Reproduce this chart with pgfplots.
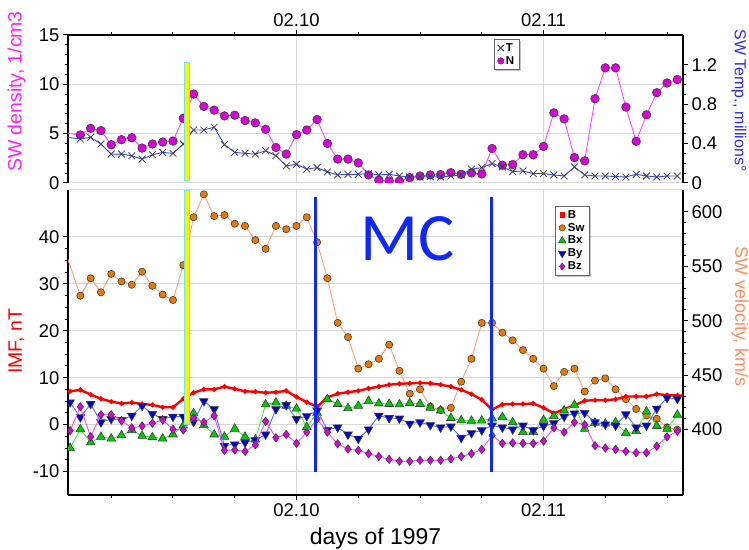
\documentclass[border=0pt]{standalone}
\usepackage{pgfplots}
\pgfplotsset{compat=1.18}
\usepackage{fontspec}
\setmainfont{Liberation Sans}
\newfontfamily\carlito{Carlito}
\usetikzlibrary{shadows}
\definecolor{nfill}{RGB}{220,0,220}
\definecolor{nline}{RGB}{255,70,255}
\definecolor{tline}{RGB}{50,70,255}
\definecolor{swfill}{RGB}{235,120,0}
\definecolor{swline}{RGB}{255,160,115}
\definecolor{bxfill}{RGB}{0,205,0}
\definecolor{bxline}{RGB}{70,235,70}
\definecolor{byfill}{RGB}{0,0,215}
\definecolor{byline}{RGB}{80,110,255}
\definecolor{bzfill}{RGB}{225,0,225}
\definecolor{bzline}{RGB}{255,70,255}
\definecolor{bred}{RGB}{255,0,0}
\definecolor{mcblue}{RGB}{15,40,250}
\definecolor{denslab}{RGB}{255,30,255}
\definecolor{templab}{RGB}{40,40,255}
\definecolor{vellab}{RGB}{255,140,90}
\definecolor{gridgray}{RGB}{215,215,215}
\definecolor{barcyan}{RGB}{110,230,230}
\definecolor{mkedge}{RGB}{60,60,60}
\pgfplotsset{
  panel/.style={scale only axis, width=615bp, xmin=1.8, xmax=61.55, anchor=south west,
    clip marker paths=true,
    /pgf/number format/assume math mode=true,
    tick label style={font=\fontsize{18.5}{20}\selectfont},
    axis line style={line width=1.6bp, black, -},
    every tick/.style={black, line width=1bp},
    major tick length=5bp, minor tick length=3bp, tick align=outside},
  legbox/.style={draw=black!60, line width=0.8bp, fill=white,
    font=\fontsize{11.5}{13}\selectfont\bfseries, inner xsep=3bp, inner ysep=2bp,
    row sep=-0.5bp,
    drop shadow={shadow xshift=1.8bp, shadow yshift=-1.8bp, fill=black!45}},
}
\begin{document}
\begin{tikzpicture}[x=1bp,y=1bp]
\path[use as bounding box] (0,0) rectangle (749,550);
% ---------------- TOP PANEL: density (left) ----------------
\begin{axis}[panel, height=148bp, at={(68bp,367bp)},
  ymin=0, ymax=15, axis x line*=top, axis y line*=left,
  xtick={24,48}, xticklabels={02.10,02.11}, minor xtick={6,12,18,30,36,42,54,60},
  ytick={0,5,10,15}, minor y tick num=4,
  grid=major, major grid style={gridgray, line width=1bp}]
\addplot[nline, line width=0.9bp, mark=*, mark size=4.3bp,
  mark options={fill=nfill, draw=mkedge, line width=0.6bp}] coordinates {
(1,5.14) (3,4.87) (4,5.54) (5,5.31) (6,3.88) (7,4.39) (8,4.59) (9,3.54) (10,3.95)
(11,4.15) (12,4.25) (13,6.56) (14,9.01) (15,7.76) (16,7.38) (17,6.80) (18,6.87)
(19,6.33) (20,6.09) (21,5.44) (22,3.60) (23,2.93) (24,4.90) (25,5.37) (26,6.43)
(27,4.01) (28,2.42) (29,2.42) (30,2.04) (31,0.82) (32,0.27) (33,0.2) (34,0.2)
(35,0.54) (36,0.71) (37,0.82) (38,0.85) (39,1.05) (40,0.88) (41,1.02) (42,0.92)
(43,3.50) (44,1.80) (45,1.87) (46,2.86) (47,2.86) (48,3.71) (49,7.11) (50,6.50)
(51,2.58) (52,2.24) (53,8.54) (54,11.67) (55,11.67) (56,7.69) (57,4.22) (58,6.91)
(59,9.15) (60,10.14) (61,10.48)};
\end{axis}
% ---------------- TOP PANEL: temperature (right) ----------------
\begin{axis}[panel, height=148bp, at={(68bp,367bp)},
  ymin=0, ymax=1.5, axis x line=none, axis y line*=right,
  ytick={0,0.4,0.8,1.2}, minor y tick num=3,
  legend cell align=left,
  legend style={legbox, at={(rel axis cs:0.693,0.973)}, anchor=north west}]
\addplot[tline, line width=0.9bp, mark=x, mark size=4.8bp,
  mark options={draw=black!75, line width=0.8bp}, forget plot] coordinates {
(1,0.473) (3,0.446) (4,0.463) (5,0.395) (6,0.293) (7,0.293) (8,0.276) (9,0.242)
(10,0.286) (11,0.31) (12,0.30) (13,0.395) (14,0.537) (15,0.537) (16,0.565)
(17,0.388) (18,0.31) (19,0.30) (20,0.293) (21,0.327) (22,0.276) (23,0.173)
(24,0.19) (25,0.14) (26,0.156) (27,0.112) (28,0.082) (29,0.088) (30,0.088)
(31,0.095) (32,0.082) (33,0.088) (34,0.071) (35,0.061) (36,0.061) (37,0.065)
(38,0.061) (39,0.071) (40,0.082) (41,0.14) (42,0.156) (43,0.197) (44,0.163)
(45,0.116) (46,0.122) (47,0.095) (48,0.095) (49,0.082) (50,0.071) (51,0.163)
(52,0.082) (53,0.071) (54,0.071) (55,0.065) (56,0.061) (57,0.088) (58,0.071)
(59,0.061) (60,0.071) (61,0.071)};
\addplot[fill=yellow, draw=barcyan, line width=0.8bp, forget plot]
  coordinates {(13.07,0.028) (13.55,0.028) (13.55,1.225) (13.07,1.225)} -- cycle;
\addlegendimage{only marks, mark=x, mark size=4.5bp, mark options={draw=black!80, line width=0.9bp}}
\addlegendentry{T}
\addlegendimage{only marks, mark=*, mark size=3.2bp, mark options={fill=nfill, draw=mkedge, line width=0.5bp}}
\addlegendentry{N}
\end{axis}
% ---------------- BOTTOM PANEL: grid + left axis ----------------
\begin{axis}[panel, height=305bp, at={(68bp,55bp)},
  ymin=-15, ymax=50, axis x line*=bottom, axis y line*=left,
  xtick={24,48}, xticklabels={02.10,02.11}, minor xtick={6,12,18,30,36,42,54,60},
  ytick={-10,0,10,20,30,40}, minor y tick num=3,
  extra y ticks={50}, extra y tick labels={},
  extra y tick style={grid=major, major tick length=0pt},
  grid=major, major grid style={gridgray, line width=1bp}]
\addplot[draw=none, forget plot] coordinates {(10,0)};
\end{axis}
% ---------------- BOTTOM PANEL: solar wind speed (right) ----------------
\begin{axis}[panel, height=305bp, at={(68bp,55bp)},
  ymin=340, ymax=620, axis x line=none, axis y line*=right,
  ytick={400,450,500,550,600}, minor y tick num=4]
\addplot[swline, line width=0.9bp, mark=*, mark size=3.6bp,
  mark options={fill=swfill, draw=mkedge, line width=0.6bp}] coordinates {
(1,578) (3,523) (4,539) (5,526) (6,543) (7,536) (8,533) (9,545) (10,532) (11,524)
(12,519) (13,551) (14,595) (15,616) (16,596) (17,597) (18,589) (19,587) (20,574)
(21,566) (22,587) (23,584) (24,587) (25,595) (26,572) (27,539) (28,498) (29,485)
(30,456) (31,460) (32,465) (33,478) (34,454) (35,433) (36,437) (37,421) (38,418)
(39,420) (40,444) (41,465) (42,498) (43,498) (44,489) (45,482) (46,473) (47,465)
(48,456) (49,440) (50,453) (51,456) (52,435) (53,445) (54,447) (55,437) (56,428)
(57,419) (58,413) (59,410) (60,402) (61,400)};
\end{axis}
% ---------------- BOTTOM PANEL: IMF (left scale) ----------------
\begin{axis}[panel, height=305bp, at={(68bp,55bp)},
  ymin=-15, ymax=50, hide axis,
  legend cell align=left,
  legend style={legbox, at={(rel axis cs:0.792,0.948)}, anchor=north west}]
\addplot[bred, line width=2.4bp, mark=*, mark size=1.1bp, forget plot] coordinates {
(2,7.1) (3,7.4) (4,6.4) (5,5.5) (6,4.9) (7,4.5) (8,4.7) (9,4.4) (10,4.2) (11,3.7)
(12,3.7) (13,5.5) (14,6.8) (15,7.5) (16,7.5) (17,8.1) (18,7.6) (19,7.1) (20,7.0)
(21,6.8) (22,6.9) (23,7.2) (24,5.9) (25,4.8) (26,3.8) (27,5.8) (28,6.6) (29,6.9)
(30,7.2) (31,7.7) (32,8.1) (33,8.5) (34,8.7) (35,8.8) (36,8.9) (37,8.8) (38,8.5)
(39,8.1) (40,7.4) (41,6.5) (42,5.3) (43,3.2) (44,4.3) (45,4.4) (46,4.4) (47,4.5)
(48,3.6) (49,2.4) (50,3.3) (51,4.1) (52,5.1) (53,5.2) (54,5.2) (55,5.4) (56,6.0)
(57,6.0) (58,6.0) (59,6.5) (60,6.3) (61,6.2) (62,6.2)};
\addplot[bxline, line width=0.9bp, mark=triangle*, mark size=5bp,
  mark options={fill=bxfill, draw=mkedge, line width=0.6bp}, forget plot] coordinates {
(2,-5.0) (3,-1.0) (4,-3.8) (5,-2.6) (6,-3.0) (7,-2.3) (8,-1.2) (9,-2.4) (10,-2.7)
(11,-3.0) (12,-2.1) (13,-0.2) (14,2.4) (15,-0.1) (16,-2.1) (17,-2.6) (18,-0.9)
(19,-2.6) (20,-3.2) (21,4.3) (22,4.7) (23,4.0) (24,3.4) (25,-0.5) (26,2.5) (27,5.4)
(28,4.4) (29,3.5) (30,4.0) (31,5.0) (32,4.5) (33,4.4) (34,4.3) (35,4.6) (36,4.4)
(37,3.6) (38,3.0) (39,1.4) (40,0.9) (41,0.8) (42,0.85) (43,1.3) (44,1.6) (45,0.5)
(46,-1.6) (47,-1.6) (48,1.0) (49,1.8) (50,3.0) (51,4.2) (52,-0.9) (53,0.4) (54,0.2)
(55,0.5) (56,-1.8) (57,-1.4) (58,2.8) (59,-0.3) (60,-0.9) (61,2.1)};
\addplot[byline, line width=0.9bp, mark=triangle*, mark size=5bp,
  mark options={rotate=180, fill=byfill, draw=mkedge, line width=0.6bp}, forget plot] coordinates {
(2,4.75) (3,1.56) (4,4.4) (5,0.5) (6,1.2) (7,1.0) (8,1.9) (9,4.0) (10,2.3) (11,1.2)
(12,1.7) (13,1.7) (14,0.6) (15,5.0) (16,3.3) (17,-4.5) (18,-4.2) (19,-3.8) (20,-3.3)
(21,-2.1) (22,3.3) (23,4.2) (24,1.2) (25,1.8) (26,3.0) (27,-1.1) (28,-0.6) (29,-2.1)
(30,-3.0) (31,-1.0) (32,1.9) (33,1.4) (34,1.3) (35,0.2) (36,0.5) (37,-0.1) (38,-0.6)
(39,-0.4) (40,-2.8) (41,-1.8) (42,-1.2) (43,-0.2) (44,-0.6) (45,-1.0) (46,-0.2)
(47,-1.2) (48,-0.3) (49,0.3) (50,1.7) (51,2.4) (52,2.5) (53,0.5) (54,0.05) (55,-0.2)
(56,2.2) (57,-0.6) (58,-0.2) (59,3.4) (60,5.7) (61,5.5)};
\addplot[bzline, line width=0.9bp, mark=diamond*, mark size=4.2bp,
  mark options={fill=bzfill, draw=mkedge, line width=0.6bp}, forget plot] coordinates {
(2,-1.3) (3,3.8) (4,-2.6) (5,2.1) (6,2.1) (7,0.85) (8,-0.7) (9,-0.3) (10,0.3)
(11,1.0) (12,-1.0) (13,-1.15) (14,1.4) (15,0.5) (16,1.9) (17,-5.5) (18,-5.4)
(19,-5.7) (20,-4.3) (21,0.7) (22,-2.8) (23,-2.1) (24,-4.0) (25,-1.6) (26,1.2)
(27,-1.6) (28,-4.1) (29,-5.2) (30,-5.5) (31,-6.2) (32,-6.8) (33,-7.4) (34,-7.8)
(35,-7.8) (36,-7.6) (37,-7.6) (38,-7.6) (39,-7.3) (40,-6.8) (41,-6.2) (42,-5.3)
(43,-2.3) (44,-4.0) (45,-3.9) (46,-4.0) (47,-4.0) (48,-3.5) (49,-0.7) (50,-1.6)
(51,0.5) (52,0.0) (53,-4.5) (54,-5.0) (55,-5.3) (56,-5.7) (57,-6.0) (58,-6.0)
(59,-4.6) (60,-2.6) (61,-1.4)};
\addplot[fill=yellow, draw=barcyan, line width=0.8bp, forget plot]
  coordinates {(13.07,0) (13.55,0) (13.55,50) (13.07,50)} -- cycle;
\addplot[mcblue, line width=2.6bp, forget plot] coordinates {(25.85,-10) (25.85,48.6)};
\addplot[mcblue, line width=2.6bp, forget plot] coordinates {(42.95,-10) (42.95,48.6)};
\node[text=mcblue, font=\carlito\fontsize{68}{68}\selectfont] at (axis cs:34.8,39.6) {MC};
\addlegendimage{only marks, mark=square*, mark size=2.2bp, mark options={fill=bred, draw=bred}}
\addlegendentry{B}
\addlegendimage{only marks, mark=*, mark size=3.2bp, mark options={fill=swfill, draw=mkedge, line width=0.5bp}}
\addlegendentry{Sw}
\addlegendimage{only marks, mark=triangle*, mark size=4.3bp, mark options={fill=bxfill, draw=mkedge, line width=0.5bp}}
\addlegendentry{Bx}
\addlegendimage{only marks, mark=triangle*, mark size=4.3bp, mark options={rotate=180, fill=byfill, draw=mkedge, line width=0.5bp}}
\addlegendentry{By}
\addlegendimage{only marks, mark=diamond*, mark size=3.6bp, mark options={fill=bzfill, draw=mkedge, line width=0.5bp}}
\addlegendentry{Bz}
\end{axis}
% ---------------- labels ----------------
\node[rotate=90, text=denslab, font=\fontsize{19.5}{20}\selectfont] at (16.5,458.5) {SW density, 1/cm3};
\node[rotate=90, text=bred, font=\fontsize{19.5}{20}\selectfont] at (16.5,208.5) {IMF, nT};
\node[rotate=-90, text=templab, font=\fontsize{16}{17}\selectfont] at (739,449.5) {SW Temp., millions°};
\node[rotate=-90, text=vellab, font=\fontsize{18}{19}\selectfont] at (740,233.5) {SW velocity, km/s};
\node[anchor=base, font=\fontsize{23}{24}\selectfont] at (375.5,5) {days of 1997};
\end{tikzpicture}
\end{document}
